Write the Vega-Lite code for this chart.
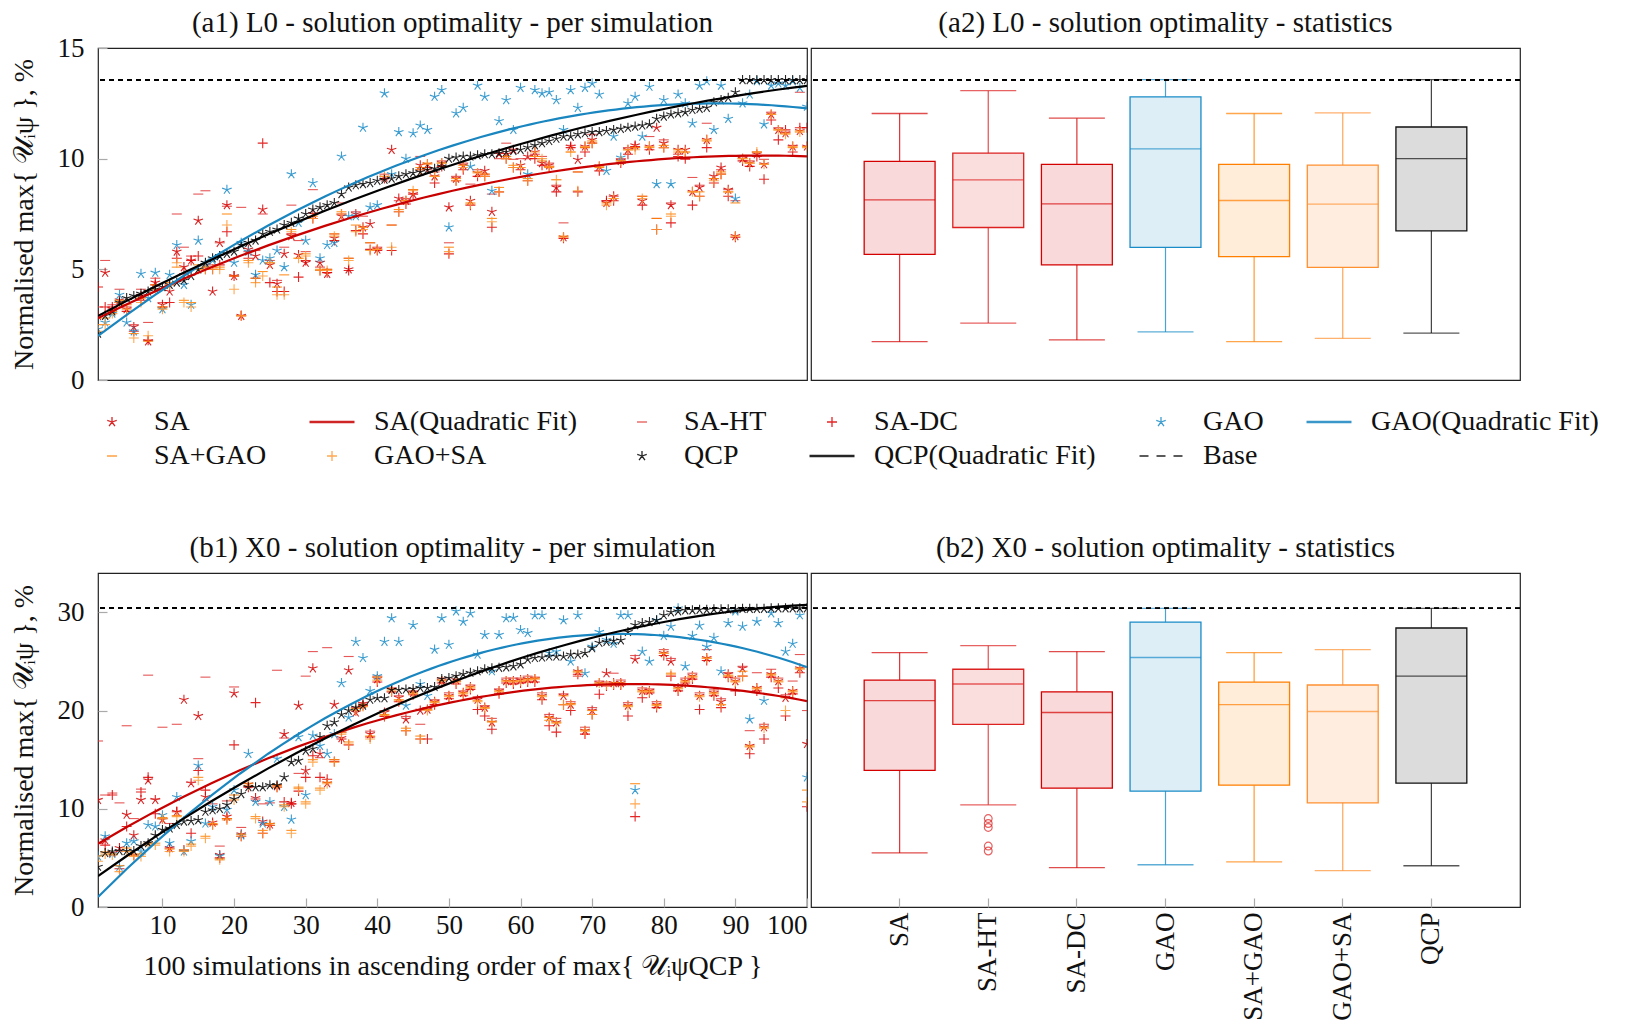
{
"$schema":"https://vega.github.io/schema/vega-lite/v6.json",
"background":"white",
"padding":{"left":9,"top":8,"right":10,"bottom":4},
"config":{
 "font":"Liberation Serif",
 "view":{"stroke":"#222","strokeWidth":1.2},
 "axis":{"labelFont":"Liberation Serif","titleFont":"Liberation Serif","labelFontSize":27,"titleFontSize":28,"titleFontWeight":"normal","labelColor":"#111","titleColor":"#111","grid":false,"domain":false,"tickColor":"#aaa","tickSize":-9,"tickWidth":1.2},
 "title":{"font":"Liberation Serif","fontSize":29,"fontWeight":"normal","color":"#111","frame":"group"},
 "legend":{"labelFont":"Liberation Serif","labelFontSize":28,"labelColor":"#111","labelLimit":500}
},
"datasets":{
"a":[
{"s":"SA","x":1,"y":2.9},{"s":"SA","x":2,"y":4.85},{"s":"SA","x":3,"y":3.2},{"s":"SA","x":4,"y":3.6},{"s":"SA","x":5,"y":3.2},{"s":"SA","x":6,"y":2.4},{"s":"SA","x":7,"y":3.8},{"s":"SA","x":8,"y":1.75},{"s":"SA","x":9,"y":4.4},{"s":"SA","x":10,"y":3.4},
{"s":"SA","x":11,"y":4.0},{"s":"SA","x":12,"y":5.8},{"s":"SA","x":13,"y":5.1},{"s":"SA","x":14,"y":5.4},{"s":"SA","x":15,"y":7.2},{"s":"SA","x":16,"y":5.2},{"s":"SA","x":17,"y":4.0},{"s":"SA","x":18,"y":6.2},{"s":"SA","x":19,"y":7.9},{"s":"SA","x":20,"y":4.7},
{"s":"SA","x":21,"y":2.9},{"s":"SA","x":22,"y":5.9},{"s":"SA","x":23,"y":5.6},{"s":"SA","x":24,"y":7.7},{"s":"SA","x":25,"y":5.2},{"s":"SA","x":26,"y":4.35},{"s":"SA","x":27,"y":5.7},{"s":"SA","x":28,"y":6.5},{"s":"SA","x":29,"y":5.65},{"s":"SA","x":30,"y":5.3},
{"s":"SA","x":31,"y":7.5},{"s":"SA","x":32,"y":5.3},{"s":"SA","x":33,"y":4.8},{"s":"SA","x":34,"y":6.4},{"s":"SA","x":35,"y":7.4},{"s":"SA","x":36,"y":5.0},{"s":"SA","x":37,"y":7.5},{"s":"SA","x":38,"y":6.9},{"s":"SA","x":39,"y":7.05},{"s":"SA","x":40,"y":5.9},
{"s":"SA","x":41,"y":9.15},{"s":"SA","x":42,"y":10.4},{"s":"SA","x":43,"y":8.2},{"s":"SA","x":44,"y":8.1},{"s":"SA","x":45,"y":8.4},{"s":"SA","x":46,"y":9.7},{"s":"SA","x":47,"y":9.75},{"s":"SA","x":48,"y":9.2},{"s":"SA","x":49,"y":9.8},{"s":"SA","x":50,"y":7.8},
{"s":"SA","x":51,"y":9.1},{"s":"SA","x":52,"y":9.7},{"s":"SA","x":53,"y":8.1},{"s":"SA","x":54,"y":9.35},{"s":"SA","x":55,"y":9.45},{"s":"SA","x":56,"y":7.6},{"s":"SA","x":57,"y":10.2},{"s":"SA","x":58,"y":10.2},{"s":"SA","x":59,"y":10.4},{"s":"SA","x":60,"y":9.7},
{"s":"SA","x":61,"y":10.1},{"s":"SA","x":62,"y":10.3},{"s":"SA","x":63,"y":9.8},{"s":"SA","x":64,"y":9.7},{"s":"SA","x":65,"y":8.7},{"s":"SA","x":66,"y":6.45},{"s":"SA","x":67,"y":10.55},{"s":"SA","x":68,"y":9.95},{"s":"SA","x":69,"y":10.55},{"s":"SA","x":70,"y":10.85},
{"s":"SA","x":71,"y":9.65},{"s":"SA","x":72,"y":8.0},{"s":"SA","x":73,"y":8.3},{"s":"SA","x":74,"y":9.9},{"s":"SA","x":75,"y":10.4},{"s":"SA","x":76,"y":10.6},{"s":"SA","x":77,"y":8.1},{"s":"SA","x":78,"y":10.55},{"s":"SA","x":79,"y":11.4},{"s":"SA","x":80,"y":10.7},
{"s":"SA","x":81,"y":7.9},{"s":"SA","x":82,"y":10.4},{"s":"SA","x":83,"y":10.4},{"s":"SA","x":84,"y":8.5},{"s":"SA","x":85,"y":8.7},{"s":"SA","x":86,"y":10.85},{"s":"SA","x":87,"y":9.2},{"s":"SA","x":88,"y":9.6},{"s":"SA","x":89,"y":8.6},{"s":"SA","x":90,"y":6.5},
{"s":"SA","x":91,"y":10.0},{"s":"SA","x":92,"y":9.8},{"s":"SA","x":93,"y":10.2},{"s":"SA","x":94,"y":9.75},{"s":"SA","x":95,"y":12.0},{"s":"SA","x":96,"y":11.3},{"s":"SA","x":97,"y":11.15},{"s":"SA","x":98,"y":10.55},{"s":"SA","x":99,"y":11.25},{"s":"SA","x":100,"y":10.55},
{"s":"SA-HT","x":1,"y":3.3},{"s":"SA-HT","x":2,"y":5.4},{"s":"SA-HT","x":3,"y":3.4},{"s":"SA-HT","x":4,"y":4.1},{"s":"SA-HT","x":5,"y":3.3},{"s":"SA-HT","x":6,"y":2.5},{"s":"SA-HT","x":7,"y":4.1},{"s":"SA-HT","x":8,"y":2.6},{"s":"SA-HT","x":9,"y":4.6},{"s":"SA-HT","x":10,"y":3.5},
{"s":"SA-HT","x":11,"y":4.3},{"s":"SA-HT","x":12,"y":7.5},{"s":"SA-HT","x":13,"y":6.0},{"s":"SA-HT","x":14,"y":5.6},{"s":"SA-HT","x":15,"y":8.4},{"s":"SA-HT","x":16,"y":8.55},{"s":"SA-HT","x":17,"y":5.2},{"s":"SA-HT","x":18,"y":6.2},{"s":"SA-HT","x":19,"y":7.85},{"s":"SA-HT","x":20,"y":4.7},
{"s":"SA-HT","x":21,"y":7.8},{"s":"SA-HT","x":22,"y":5.8},{"s":"SA-HT","x":23,"y":5.85},{"s":"SA-HT","x":24,"y":7.5},{"s":"SA-HT","x":25,"y":5.4},{"s":"SA-HT","x":26,"y":4.5},{"s":"SA-HT","x":27,"y":6.0},{"s":"SA-HT","x":28,"y":7.9},{"s":"SA-HT","x":29,"y":6.3},{"s":"SA-HT","x":30,"y":5.8},
{"s":"SA-HT","x":31,"y":8.6},{"s":"SA-HT","x":32,"y":5.1},{"s":"SA-HT","x":33,"y":5.0},{"s":"SA-HT","x":34,"y":6.6},{"s":"SA-HT","x":35,"y":8.0},{"s":"SA-HT","x":36,"y":5.5},{"s":"SA-HT","x":37,"y":7.6},{"s":"SA-HT","x":38,"y":7.4},{"s":"SA-HT","x":39,"y":6.2},{"s":"SA-HT","x":40,"y":6.0},
{"s":"SA-HT","x":41,"y":9.3},{"s":"SA-HT","x":42,"y":7.0},{"s":"SA-HT","x":43,"y":8.1},{"s":"SA-HT","x":44,"y":8.2},{"s":"SA-HT","x":45,"y":8.6},{"s":"SA-HT","x":46,"y":10.1},{"s":"SA-HT","x":47,"y":9.5},{"s":"SA-HT","x":48,"y":9.4},{"s":"SA-HT","x":49,"y":9.9},{"s":"SA-HT","x":50,"y":6.2},
{"s":"SA-HT","x":51,"y":9.2},{"s":"SA-HT","x":52,"y":9.8},{"s":"SA-HT","x":53,"y":8.85},{"s":"SA-HT","x":54,"y":9.5},{"s":"SA-HT","x":55,"y":9.3},{"s":"SA-HT","x":56,"y":8.4},{"s":"SA-HT","x":57,"y":10.0},{"s":"SA-HT","x":58,"y":10.7},{"s":"SA-HT","x":59,"y":9.97},{"s":"SA-HT","x":60,"y":10.0},
{"s":"SA-HT","x":61,"y":10.0},{"s":"SA-HT","x":62,"y":10.2},{"s":"SA-HT","x":63,"y":10.1},{"s":"SA-HT","x":64,"y":9.8},{"s":"SA-HT","x":65,"y":8.8},{"s":"SA-HT","x":66,"y":7.1},{"s":"SA-HT","x":67,"y":10.6},{"s":"SA-HT","x":68,"y":9.4},{"s":"SA-HT","x":69,"y":10.5},{"s":"SA-HT","x":70,"y":11.1},
{"s":"SA-HT","x":71,"y":9.7},{"s":"SA-HT","x":72,"y":8.1},{"s":"SA-HT","x":73,"y":8.3},{"s":"SA-HT","x":74,"y":10.0},{"s":"SA-HT","x":75,"y":10.5},{"s":"SA-HT","x":76,"y":10.5},{"s":"SA-HT","x":77,"y":8.3},{"s":"SA-HT","x":78,"y":11.0},{"s":"SA-HT","x":79,"y":7.3},{"s":"SA-HT","x":80,"y":10.85},
{"s":"SA-HT","x":81,"y":8.0},{"s":"SA-HT","x":82,"y":10.2},{"s":"SA-HT","x":83,"y":9.97},{"s":"SA-HT","x":84,"y":9.15},{"s":"SA-HT","x":85,"y":8.8},{"s":"SA-HT","x":86,"y":11.6},{"s":"SA-HT","x":87,"y":9.1},{"s":"SA-HT","x":88,"y":9.5},{"s":"SA-HT","x":89,"y":8.6},{"s":"SA-HT","x":90,"y":8.1},
{"s":"SA-HT","x":91,"y":10.1},{"s":"SA-HT","x":92,"y":9.9},{"s":"SA-HT","x":93,"y":10.3},{"s":"SA-HT","x":94,"y":9.97},{"s":"SA-HT","x":95,"y":12.1},{"s":"SA-HT","x":96,"y":11.4},{"s":"SA-HT","x":97,"y":11.2},{"s":"SA-HT","x":98,"y":10.6},{"s":"SA-HT","x":99,"y":13.0},{"s":"SA-HT","x":100,"y":11.4},
{"s":"SA-DC","x":1,"y":4.2},{"s":"SA-DC","x":2,"y":3.3},{"s":"SA-DC","x":3,"y":3.3},{"s":"SA-DC","x":4,"y":3.5},{"s":"SA-DC","x":5,"y":3.1},{"s":"SA-DC","x":6,"y":2.2},{"s":"SA-DC","x":7,"y":3.6},{"s":"SA-DC","x":8,"y":1.8},{"s":"SA-DC","x":9,"y":4.3},{"s":"SA-DC","x":10,"y":3.3},
{"s":"SA-DC","x":11,"y":3.5},{"s":"SA-DC","x":12,"y":5.5},{"s":"SA-DC","x":13,"y":4.8},{"s":"SA-DC","x":14,"y":5.4},{"s":"SA-DC","x":15,"y":5.6},{"s":"SA-DC","x":16,"y":5.0},{"s":"SA-DC","x":17,"y":5.0},{"s":"SA-DC","x":18,"y":5.2},{"s":"SA-DC","x":19,"y":6.7},{"s":"SA-DC","x":20,"y":4.7},
{"s":"SA-DC","x":21,"y":2.9},{"s":"SA-DC","x":22,"y":5.5},{"s":"SA-DC","x":23,"y":4.6},{"s":"SA-DC","x":24,"y":10.7},{"s":"SA-DC","x":25,"y":4.4},{"s":"SA-DC","x":26,"y":4.0},{"s":"SA-DC","x":27,"y":4.0},{"s":"SA-DC","x":28,"y":6.6},{"s":"SA-DC","x":29,"y":4.65},{"s":"SA-DC","x":30,"y":5.4},
{"s":"SA-DC","x":31,"y":7.3},{"s":"SA-DC","x":32,"y":4.95},{"s":"SA-DC","x":33,"y":4.85},{"s":"SA-DC","x":34,"y":6.3},{"s":"SA-DC","x":35,"y":7.5},{"s":"SA-DC","x":36,"y":4.95},{"s":"SA-DC","x":37,"y":6.75},{"s":"SA-DC","x":38,"y":6.6},{"s":"SA-DC","x":39,"y":5.9},{"s":"SA-DC","x":40,"y":5.85},
{"s":"SA-DC","x":41,"y":9.1},{"s":"SA-DC","x":42,"y":5.85},{"s":"SA-DC","x":43,"y":7.6},{"s":"SA-DC","x":44,"y":7.95},{"s":"SA-DC","x":45,"y":8.4},{"s":"SA-DC","x":46,"y":9.5},{"s":"SA-DC","x":47,"y":9.6},{"s":"SA-DC","x":48,"y":8.9},{"s":"SA-DC","x":49,"y":9.65},{"s":"SA-DC","x":50,"y":5.7},
{"s":"SA-DC","x":51,"y":9.0},{"s":"SA-DC","x":52,"y":9.5},{"s":"SA-DC","x":53,"y":7.9},{"s":"SA-DC","x":54,"y":9.2},{"s":"SA-DC","x":55,"y":9.2},{"s":"SA-DC","x":56,"y":6.9},{"s":"SA-DC","x":57,"y":8.5},{"s":"SA-DC","x":58,"y":10.0},{"s":"SA-DC","x":59,"y":9.6},{"s":"SA-DC","x":60,"y":9.5},
{"s":"SA-DC","x":61,"y":9.0},{"s":"SA-DC","x":62,"y":10.0},{"s":"SA-DC","x":63,"y":9.7},{"s":"SA-DC","x":64,"y":9.65},{"s":"SA-DC","x":65,"y":8.5},{"s":"SA-DC","x":66,"y":6.4},{"s":"SA-DC","x":67,"y":10.5},{"s":"SA-DC","x":68,"y":8.5},{"s":"SA-DC","x":69,"y":10.3},{"s":"SA-DC","x":70,"y":10.7},
{"s":"SA-DC","x":71,"y":9.45},{"s":"SA-DC","x":72,"y":8.1},{"s":"SA-DC","x":73,"y":8.1},{"s":"SA-DC","x":74,"y":9.8},{"s":"SA-DC","x":75,"y":10.2},{"s":"SA-DC","x":76,"y":10.55},{"s":"SA-DC","x":77,"y":7.9},{"s":"SA-DC","x":78,"y":10.4},{"s":"SA-DC","x":79,"y":6.8},{"s":"SA-DC","x":80,"y":10.5},
{"s":"SA-DC","x":81,"y":7.1},{"s":"SA-DC","x":82,"y":10.1},{"s":"SA-DC","x":83,"y":10.0},{"s":"SA-DC","x":84,"y":7.9},{"s":"SA-DC","x":85,"y":8.3},{"s":"SA-DC","x":86,"y":10.5},{"s":"SA-DC","x":87,"y":8.9},{"s":"SA-DC","x":88,"y":9.3},{"s":"SA-DC","x":89,"y":8.3},{"s":"SA-DC","x":90,"y":6.45},
{"s":"SA-DC","x":91,"y":9.9},{"s":"SA-DC","x":92,"y":9.65},{"s":"SA-DC","x":93,"y":10.1},{"s":"SA-DC","x":94,"y":9.07},{"s":"SA-DC","x":95,"y":11.75},{"s":"SA-DC","x":96,"y":10.85},{"s":"SA-DC","x":97,"y":11.3},{"s":"SA-DC","x":98,"y":10.3},{"s":"SA-DC","x":99,"y":11.4},{"s":"SA-DC","x":100,"y":11.4},
{"s":"GAO","x":1,"y":2.3},{"s":"GAO","x":2,"y":2.6},{"s":"GAO","x":3,"y":3.0},{"s":"GAO","x":4,"y":3.85},{"s":"GAO","x":5,"y":2.6},{"s":"GAO","x":6,"y":2.2},{"s":"GAO","x":7,"y":4.8},{"s":"GAO","x":8,"y":3.7},{"s":"GAO","x":9,"y":4.85},{"s":"GAO","x":10,"y":3.2},
{"s":"GAO","x":11,"y":4.75},{"s":"GAO","x":12,"y":6.1},{"s":"GAO","x":13,"y":4.3},{"s":"GAO","x":14,"y":3.4},{"s":"GAO","x":15,"y":6.3},{"s":"GAO","x":16,"y":5.2},{"s":"GAO","x":17,"y":5.4},{"s":"GAO","x":18,"y":5.6},{"s":"GAO","x":19,"y":8.6},{"s":"GAO","x":20,"y":5.3},
{"s":"GAO","x":21,"y":6.2},{"s":"GAO","x":22,"y":5.8},{"s":"GAO","x":23,"y":4.75},{"s":"GAO","x":24,"y":5.4},{"s":"GAO","x":25,"y":5.5},{"s":"GAO","x":26,"y":5.85},{"s":"GAO","x":27,"y":5.1},{"s":"GAO","x":28,"y":9.3},{"s":"GAO","x":29,"y":7.1},{"s":"GAO","x":30,"y":6.3},
{"s":"GAO","x":31,"y":8.9},{"s":"GAO","x":32,"y":5.5},{"s":"GAO","x":33,"y":6.1},{"s":"GAO","x":34,"y":6.2},{"s":"GAO","x":35,"y":10.1},{"s":"GAO","x":36,"y":7.4},{"s":"GAO","x":37,"y":7.4},{"s":"GAO","x":38,"y":11.4},{"s":"GAO","x":39,"y":7.8},{"s":"GAO","x":40,"y":7.9},
{"s":"GAO","x":41,"y":12.95},{"s":"GAO","x":42,"y":9.3},{"s":"GAO","x":43,"y":11.2},{"s":"GAO","x":44,"y":10.0},{"s":"GAO","x":45,"y":11.15},{"s":"GAO","x":46,"y":11.5},{"s":"GAO","x":47,"y":11.3},{"s":"GAO","x":48,"y":12.8},{"s":"GAO","x":49,"y":13.1},{"s":"GAO","x":50,"y":6.9},
{"s":"GAO","x":51,"y":12.05},{"s":"GAO","x":52,"y":12.3},{"s":"GAO","x":53,"y":9.65},{"s":"GAO","x":54,"y":13.3},{"s":"GAO","x":55,"y":12.8},{"s":"GAO","x":56,"y":8.55},{"s":"GAO","x":57,"y":11.7},{"s":"GAO","x":58,"y":12.65},{"s":"GAO","x":59,"y":11.3},{"s":"GAO","x":60,"y":13.2},
{"s":"GAO","x":61,"y":9.3},{"s":"GAO","x":62,"y":13.1},{"s":"GAO","x":63,"y":12.95},{"s":"GAO","x":64,"y":13.0},{"s":"GAO","x":65,"y":12.65},{"s":"GAO","x":66,"y":11.3},{"s":"GAO","x":67,"y":13.1},{"s":"GAO","x":68,"y":12.3},{"s":"GAO","x":69,"y":13.2},{"s":"GAO","x":70,"y":13.4},
{"s":"GAO","x":71,"y":12.9},{"s":"GAO","x":72,"y":9.45},{"s":"GAO","x":73,"y":11.0},{"s":"GAO","x":74,"y":10.05},{"s":"GAO","x":75,"y":12.5},{"s":"GAO","x":76,"y":12.8},{"s":"GAO","x":77,"y":11.0},{"s":"GAO","x":78,"y":13.25},{"s":"GAO","x":79,"y":8.85},{"s":"GAO","x":80,"y":12.65},
{"s":"GAO","x":81,"y":8.85},{"s":"GAO","x":82,"y":12.9},{"s":"GAO","x":83,"y":12.5},{"s":"GAO","x":84,"y":11.6},{"s":"GAO","x":85,"y":13.3},{"s":"GAO","x":86,"y":13.5},{"s":"GAO","x":87,"y":11.3},{"s":"GAO","x":88,"y":13.3},{"s":"GAO","x":89,"y":11.8},{"s":"GAO","x":90,"y":8.2},
{"s":"GAO","x":91,"y":12.5},{"s":"GAO","x":92,"y":12.9},{"s":"GAO","x":93,"y":13.5},{"s":"GAO","x":94,"y":11.55},{"s":"GAO","x":95,"y":13.3},{"s":"GAO","x":96,"y":13.4},{"s":"GAO","x":97,"y":13.3},{"s":"GAO","x":98,"y":13.5},{"s":"GAO","x":99,"y":13.2},{"s":"GAO","x":100,"y":12.35},
{"s":"SA+GAO","x":1,"y":2.5},{"s":"SA+GAO","x":2,"y":2.8},{"s":"SA+GAO","x":3,"y":3.1},{"s":"SA+GAO","x":4,"y":3.6},{"s":"SA+GAO","x":5,"y":3.4},{"s":"SA+GAO","x":6,"y":2.1},{"s":"SA+GAO","x":7,"y":3.7},{"s":"SA+GAO","x":8,"y":1.75},{"s":"SA+GAO","x":9,"y":4.3},{"s":"SA+GAO","x":10,"y":3.3},
{"s":"SA+GAO","x":11,"y":4.4},{"s":"SA+GAO","x":12,"y":5.1},{"s":"SA+GAO","x":13,"y":3.6},{"s":"SA+GAO","x":14,"y":3.5},{"s":"SA+GAO","x":15,"y":5.2},{"s":"SA+GAO","x":16,"y":5.1},{"s":"SA+GAO","x":17,"y":5.1},{"s":"SA+GAO","x":18,"y":5.1},{"s":"SA+GAO","x":19,"y":7.5},{"s":"SA+GAO","x":20,"y":4.7},
{"s":"SA+GAO","x":21,"y":2.9},{"s":"SA+GAO","x":22,"y":5.4},{"s":"SA+GAO","x":23,"y":4.6},{"s":"SA+GAO","x":24,"y":4.9},{"s":"SA+GAO","x":25,"y":5.3},{"s":"SA+GAO","x":26,"y":4.2},{"s":"SA+GAO","x":27,"y":4.75},{"s":"SA+GAO","x":28,"y":6.8},{"s":"SA+GAO","x":29,"y":5.5},{"s":"SA+GAO","x":30,"y":5.7},
{"s":"SA+GAO","x":31,"y":7.4},{"s":"SA+GAO","x":32,"y":5.0},{"s":"SA+GAO","x":33,"y":5.0},{"s":"SA+GAO","x":34,"y":6.6},{"s":"SA+GAO","x":35,"y":7.6},{"s":"SA+GAO","x":36,"y":5.5},{"s":"SA+GAO","x":37,"y":7.0},{"s":"SA+GAO","x":38,"y":6.9},{"s":"SA+GAO","x":39,"y":6.2},{"s":"SA+GAO","x":40,"y":5.9},
{"s":"SA+GAO","x":41,"y":9.2},{"s":"SA+GAO","x":42,"y":7.0},{"s":"SA+GAO","x":43,"y":7.7},{"s":"SA+GAO","x":44,"y":8.1},{"s":"SA+GAO","x":45,"y":8.6},{"s":"SA+GAO","x":46,"y":9.6},{"s":"SA+GAO","x":47,"y":9.8},{"s":"SA+GAO","x":48,"y":9.2},{"s":"SA+GAO","x":49,"y":9.8},{"s":"SA+GAO","x":50,"y":6.0},
{"s":"SA+GAO","x":51,"y":9.1},{"s":"SA+GAO","x":52,"y":9.7},{"s":"SA+GAO","x":53,"y":8.0},{"s":"SA+GAO","x":54,"y":9.4},{"s":"SA+GAO","x":55,"y":9.3},{"s":"SA+GAO","x":56,"y":7.3},{"s":"SA+GAO","x":57,"y":8.7},{"s":"SA+GAO","x":58,"y":10.1},{"s":"SA+GAO","x":59,"y":9.7},{"s":"SA+GAO","x":60,"y":9.6},
{"s":"SA+GAO","x":61,"y":9.1},{"s":"SA+GAO","x":62,"y":10.1},{"s":"SA+GAO","x":63,"y":9.9},{"s":"SA+GAO","x":64,"y":9.6},{"s":"SA+GAO","x":65,"y":9.05},{"s":"SA+GAO","x":66,"y":6.5},{"s":"SA+GAO","x":67,"y":10.3},{"s":"SA+GAO","x":68,"y":9.4},{"s":"SA+GAO","x":69,"y":10.5},{"s":"SA+GAO","x":70,"y":10.8},
{"s":"SA+GAO","x":71,"y":9.6},{"s":"SA+GAO","x":72,"y":8.0},{"s":"SA+GAO","x":73,"y":8.2},{"s":"SA+GAO","x":74,"y":9.9},{"s":"SA+GAO","x":75,"y":10.4},{"s":"SA+GAO","x":76,"y":10.5},{"s":"SA+GAO","x":77,"y":8.3},{"s":"SA+GAO","x":78,"y":10.5},{"s":"SA+GAO","x":79,"y":7.3},{"s":"SA+GAO","x":80,"y":10.6},
{"s":"SA+GAO","x":81,"y":7.5},{"s":"SA+GAO","x":82,"y":10.4},{"s":"SA+GAO","x":83,"y":10.3},{"s":"SA+GAO","x":84,"y":8.5},{"s":"SA+GAO","x":85,"y":8.5},{"s":"SA+GAO","x":86,"y":10.8},{"s":"SA+GAO","x":87,"y":9.1},{"s":"SA+GAO","x":88,"y":9.4},{"s":"SA+GAO","x":89,"y":8.5},{"s":"SA+GAO","x":90,"y":8.0},
{"s":"SA+GAO","x":91,"y":10.0},{"s":"SA+GAO","x":92,"y":9.8},{"s":"SA+GAO","x":93,"y":10.3},{"s":"SA+GAO","x":94,"y":9.75},{"s":"SA+GAO","x":95,"y":12.0},{"s":"SA+GAO","x":96,"y":11.3},{"s":"SA+GAO","x":97,"y":11.15},{"s":"SA+GAO","x":98,"y":10.5},{"s":"SA+GAO","x":99,"y":11.25},{"s":"SA+GAO","x":100,"y":10.55},
{"s":"GAO+SA","x":1,"y":2.2},{"s":"GAO+SA","x":2,"y":2.5},{"s":"GAO+SA","x":3,"y":3.0},{"s":"GAO+SA","x":4,"y":3.5},{"s":"GAO+SA","x":5,"y":3.2},{"s":"GAO+SA","x":6,"y":1.9},{"s":"GAO+SA","x":7,"y":3.5},{"s":"GAO+SA","x":8,"y":2.0},{"s":"GAO+SA","x":9,"y":4.1},{"s":"GAO+SA","x":10,"y":3.2},
{"s":"GAO+SA","x":11,"y":4.3},{"s":"GAO+SA","x":12,"y":5.3},{"s":"GAO+SA","x":13,"y":3.5},{"s":"GAO+SA","x":14,"y":3.3},{"s":"GAO+SA","x":15,"y":5.0},{"s":"GAO+SA","x":16,"y":5.0},{"s":"GAO+SA","x":17,"y":5.0},{"s":"GAO+SA","x":18,"y":5.0},{"s":"GAO+SA","x":19,"y":7.0},{"s":"GAO+SA","x":20,"y":4.1},
{"s":"GAO+SA","x":21,"y":2.9},{"s":"GAO+SA","x":22,"y":5.3},{"s":"GAO+SA","x":23,"y":4.4},{"s":"GAO+SA","x":24,"y":4.7},{"s":"GAO+SA","x":25,"y":5.3},{"s":"GAO+SA","x":26,"y":3.85},{"s":"GAO+SA","x":27,"y":3.85},{"s":"GAO+SA","x":28,"y":6.7},{"s":"GAO+SA","x":29,"y":5.5},{"s":"GAO+SA","x":30,"y":5.6},
{"s":"GAO+SA","x":31,"y":7.3},{"s":"GAO+SA","x":32,"y":4.95},{"s":"GAO+SA","x":33,"y":4.95},{"s":"GAO+SA","x":34,"y":6.5},{"s":"GAO+SA","x":35,"y":7.5},{"s":"GAO+SA","x":36,"y":5.4},{"s":"GAO+SA","x":37,"y":6.7},{"s":"GAO+SA","x":38,"y":6.8},{"s":"GAO+SA","x":39,"y":5.85},{"s":"GAO+SA","x":40,"y":5.9},
{"s":"GAO+SA","x":41,"y":9.2},{"s":"GAO+SA","x":42,"y":6.0},{"s":"GAO+SA","x":43,"y":7.6},{"s":"GAO+SA","x":44,"y":8.1},{"s":"GAO+SA","x":45,"y":8.55},{"s":"GAO+SA","x":46,"y":9.5},{"s":"GAO+SA","x":47,"y":9.75},{"s":"GAO+SA","x":48,"y":9.2},{"s":"GAO+SA","x":49,"y":9.8},{"s":"GAO+SA","x":50,"y":5.8},
{"s":"GAO+SA","x":51,"y":9.0},{"s":"GAO+SA","x":52,"y":9.6},{"s":"GAO+SA","x":53,"y":7.95},{"s":"GAO+SA","x":54,"y":9.35},{"s":"GAO+SA","x":55,"y":9.2},{"s":"GAO+SA","x":56,"y":7.15},{"s":"GAO+SA","x":57,"y":8.5},{"s":"GAO+SA","x":58,"y":10.0},{"s":"GAO+SA","x":59,"y":9.6},{"s":"GAO+SA","x":60,"y":9.6},
{"s":"GAO+SA","x":61,"y":9.0},{"s":"GAO+SA","x":62,"y":10.3},{"s":"GAO+SA","x":63,"y":10.0},{"s":"GAO+SA","x":64,"y":9.65},{"s":"GAO+SA","x":65,"y":9.05},{"s":"GAO+SA","x":66,"y":6.45},{"s":"GAO+SA","x":67,"y":10.3},{"s":"GAO+SA","x":68,"y":8.55},{"s":"GAO+SA","x":69,"y":10.55},{"s":"GAO+SA","x":70,"y":10.7},
{"s":"GAO+SA","x":71,"y":9.65},{"s":"GAO+SA","x":72,"y":7.9},{"s":"GAO+SA","x":73,"y":8.2},{"s":"GAO+SA","x":74,"y":9.9},{"s":"GAO+SA","x":75,"y":10.4},{"s":"GAO+SA","x":76,"y":10.4},{"s":"GAO+SA","x":77,"y":8.2},{"s":"GAO+SA","x":78,"y":10.55},{"s":"GAO+SA","x":79,"y":6.8},{"s":"GAO+SA","x":80,"y":10.5},
{"s":"GAO+SA","x":81,"y":7.4},{"s":"GAO+SA","x":82,"y":10.3},{"s":"GAO+SA","x":83,"y":10.3},{"s":"GAO+SA","x":84,"y":8.5},{"s":"GAO+SA","x":85,"y":8.3},{"s":"GAO+SA","x":86,"y":10.85},{"s":"GAO+SA","x":87,"y":9.0},{"s":"GAO+SA","x":88,"y":9.3},{"s":"GAO+SA","x":89,"y":8.5},{"s":"GAO+SA","x":90,"y":6.5},
{"s":"GAO+SA","x":91,"y":10.0},{"s":"GAO+SA","x":92,"y":9.8},{"s":"GAO+SA","x":93,"y":10.3},{"s":"GAO+SA","x":94,"y":9.75},{"s":"GAO+SA","x":95,"y":12.0},{"s":"GAO+SA","x":96,"y":11.3},{"s":"GAO+SA","x":97,"y":11.1},{"s":"GAO+SA","x":98,"y":10.55},{"s":"GAO+SA","x":99,"y":11.2},{"s":"GAO+SA","x":100,"y":10.5},
{"s":"QCP","x":1,"y":2.1},{"s":"QCP","x":2,"y":2.9},{"s":"QCP","x":3,"y":3.1},{"s":"QCP","x":4,"y":3.5},{"s":"QCP","x":5,"y":3.7},{"s":"QCP","x":6,"y":3.8},{"s":"QCP","x":7,"y":3.9},{"s":"QCP","x":8,"y":4.0},{"s":"QCP","x":9,"y":4.1},{"s":"QCP","x":10,"y":4.2},
{"s":"QCP","x":11,"y":4.3},{"s":"QCP","x":12,"y":4.4},{"s":"QCP","x":13,"y":4.5},{"s":"QCP","x":14,"y":4.7},{"s":"QCP","x":15,"y":5.0},{"s":"QCP","x":16,"y":5.3},{"s":"QCP","x":17,"y":5.5},{"s":"QCP","x":18,"y":5.6},{"s":"QCP","x":19,"y":5.7},{"s":"QCP","x":20,"y":5.8},
{"s":"QCP","x":21,"y":6.1},{"s":"QCP","x":22,"y":6.2},{"s":"QCP","x":23,"y":6.3},{"s":"QCP","x":24,"y":6.6},{"s":"QCP","x":25,"y":6.7},{"s":"QCP","x":26,"y":6.8},{"s":"QCP","x":27,"y":7.0},{"s":"QCP","x":28,"y":7.1},{"s":"QCP","x":29,"y":7.3},{"s":"QCP","x":30,"y":7.5},
{"s":"QCP","x":31,"y":7.7},{"s":"QCP","x":32,"y":7.8},{"s":"QCP","x":33,"y":7.9},{"s":"QCP","x":34,"y":8.0},{"s":"QCP","x":35,"y":8.4},{"s":"QCP","x":36,"y":8.7},{"s":"QCP","x":37,"y":8.8},{"s":"QCP","x":38,"y":8.85},{"s":"QCP","x":39,"y":8.9},{"s":"QCP","x":40,"y":9.0},
{"s":"QCP","x":41,"y":9.05},{"s":"QCP","x":42,"y":9.1},{"s":"QCP","x":43,"y":9.2},{"s":"QCP","x":44,"y":9.3},{"s":"QCP","x":45,"y":9.35},{"s":"QCP","x":46,"y":9.4},{"s":"QCP","x":47,"y":9.5},{"s":"QCP","x":48,"y":9.55},{"s":"QCP","x":49,"y":9.65},{"s":"QCP","x":50,"y":10.0},
{"s":"QCP","x":51,"y":10.05},{"s":"QCP","x":52,"y":10.1},{"s":"QCP","x":53,"y":10.1},{"s":"QCP","x":54,"y":10.15},{"s":"QCP","x":55,"y":10.2},{"s":"QCP","x":56,"y":10.2},{"s":"QCP","x":57,"y":10.25},{"s":"QCP","x":58,"y":10.3},{"s":"QCP","x":59,"y":10.35},{"s":"QCP","x":60,"y":10.4},
{"s":"QCP","x":61,"y":10.5},{"s":"QCP","x":62,"y":10.6},{"s":"QCP","x":63,"y":10.7},{"s":"QCP","x":64,"y":10.8},{"s":"QCP","x":65,"y":10.9},{"s":"QCP","x":66,"y":11.0},{"s":"QCP","x":67,"y":11.0},{"s":"QCP","x":68,"y":11.1},{"s":"QCP","x":69,"y":11.15},{"s":"QCP","x":70,"y":11.2},
{"s":"QCP","x":71,"y":11.2},{"s":"QCP","x":72,"y":11.25},{"s":"QCP","x":73,"y":11.3},{"s":"QCP","x":74,"y":11.35},{"s":"QCP","x":75,"y":11.4},{"s":"QCP","x":76,"y":11.45},{"s":"QCP","x":77,"y":11.5},{"s":"QCP","x":78,"y":11.55},{"s":"QCP","x":79,"y":11.8},{"s":"QCP","x":80,"y":11.9},
{"s":"QCP","x":81,"y":12.0},{"s":"QCP","x":82,"y":12.05},{"s":"QCP","x":83,"y":12.1},{"s":"QCP","x":84,"y":12.2},{"s":"QCP","x":85,"y":12.25},{"s":"QCP","x":86,"y":12.3},{"s":"QCP","x":87,"y":12.55},{"s":"QCP","x":88,"y":12.65},{"s":"QCP","x":89,"y":12.75},{"s":"QCP","x":90,"y":13.0},
{"s":"QCP","x":91,"y":13.55},{"s":"QCP","x":92,"y":13.55},{"s":"QCP","x":93,"y":13.55},{"s":"QCP","x":94,"y":13.55},{"s":"QCP","x":95,"y":13.55},{"s":"QCP","x":96,"y":13.55},{"s":"QCP","x":97,"y":13.55},{"s":"QCP","x":98,"y":13.55},{"s":"QCP","x":99,"y":13.55},{"s":"QCP","x":100,"y":13.55}
],
"b":[
{"s":"SA","x":1,"y":10.9},{"s":"SA","x":2,"y":6.8},{"s":"SA","x":3,"y":5.5},{"s":"SA","x":4,"y":6.0},{"s":"SA","x":5,"y":9.4},{"s":"SA","x":6,"y":7.3},{"s":"SA","x":7,"y":10.9},{"s":"SA","x":8,"y":12.9},{"s":"SA","x":9,"y":10.9},{"s":"SA","x":10,"y":8.9},
{"s":"SA","x":11,"y":6.0},{"s":"SA","x":12,"y":9.7},{"s":"SA","x":13,"y":21.1},{"s":"SA","x":14,"y":12.6},{"s":"SA","x":15,"y":19.45},{"s":"SA","x":16,"y":11.2},{"s":"SA","x":17,"y":8.6},{"s":"SA","x":18,"y":5.3},{"s":"SA","x":19,"y":9.2},{"s":"SA","x":20,"y":21.75},
{"s":"SA","x":21,"y":7.4},{"s":"SA","x":22,"y":12.5},{"s":"SA","x":23,"y":11.1},{"s":"SA","x":24,"y":8.7},{"s":"SA","x":25,"y":8.4},{"s":"SA","x":26,"y":12.3},{"s":"SA","x":27,"y":17.6},{"s":"SA","x":28,"y":10.6},{"s":"SA","x":29,"y":20.5},{"s":"SA","x":30,"y":13.9},
{"s":"SA","x":31,"y":24.3},{"s":"SA","x":32,"y":15.6},{"s":"SA","x":33,"y":12.6},{"s":"SA","x":34,"y":20.6},{"s":"SA","x":35,"y":17.2},{"s":"SA","x":36,"y":24.1},{"s":"SA","x":37,"y":19.8},{"s":"SA","x":38,"y":20.7},{"s":"SA","x":39,"y":17.6},{"s":"SA","x":40,"y":23.2},
{"s":"SA","x":41,"y":19.8},{"s":"SA","x":42,"y":22.15},{"s":"SA","x":43,"y":21.3},{"s":"SA","x":44,"y":19.1},{"s":"SA","x":45,"y":21.8},{"s":"SA","x":46,"y":20.0},{"s":"SA","x":47,"y":20.1},{"s":"SA","x":48,"y":20.9},{"s":"SA","x":49,"y":23.0},{"s":"SA","x":50,"y":21.5},
{"s":"SA","x":51,"y":23.1},{"s":"SA","x":52,"y":21.8},{"s":"SA","x":53,"y":22.4},{"s":"SA","x":54,"y":21.1},{"s":"SA","x":55,"y":20.3},{"s":"SA","x":56,"y":18.8},{"s":"SA","x":57,"y":22.0},{"s":"SA","x":58,"y":23.0},{"s":"SA","x":59,"y":23.0},{"s":"SA","x":60,"y":23.1},
{"s":"SA","x":61,"y":23.2},{"s":"SA","x":62,"y":23.2},{"s":"SA","x":63,"y":21.5},{"s":"SA","x":64,"y":19.3},{"s":"SA","x":65,"y":18.8},{"s":"SA","x":66,"y":21.5},{"s":"SA","x":67,"y":20.6},{"s":"SA","x":68,"y":24.0},{"s":"SA","x":69,"y":17.95},{"s":"SA","x":70,"y":20.0},
{"s":"SA","x":71,"y":22.8},{"s":"SA","x":72,"y":23.8},{"s":"SA","x":73,"y":22.8},{"s":"SA","x":74,"y":22.8},{"s":"SA","x":75,"y":20.5},{"s":"SA","x":76,"y":25.2},{"s":"SA","x":77,"y":22.0},{"s":"SA","x":78,"y":22.0},{"s":"SA","x":79,"y":20.6},{"s":"SA","x":80,"y":25.85},
{"s":"SA","x":81,"y":25.0},{"s":"SA","x":82,"y":22.3},{"s":"SA","x":83,"y":23.0},{"s":"SA","x":84,"y":23.5},{"s":"SA","x":85,"y":21.5},{"s":"SA","x":86,"y":25.35},{"s":"SA","x":87,"y":21.8},{"s":"SA","x":88,"y":20.9},{"s":"SA","x":89,"y":23.7},{"s":"SA","x":90,"y":23.0},
{"s":"SA","x":91,"y":24.3},{"s":"SA","x":92,"y":16.4},{"s":"SA","x":93,"y":22.3},{"s":"SA","x":94,"y":18.3},{"s":"SA","x":95,"y":23.7},{"s":"SA","x":96,"y":23.0},{"s":"SA","x":97,"y":21.3},{"s":"SA","x":98,"y":22.0},{"s":"SA","x":99,"y":24.3},{"s":"SA","x":100,"y":16.6},
{"s":"SA-HT","x":1,"y":16.9},{"s":"SA-HT","x":2,"y":11.4},{"s":"SA-HT","x":3,"y":11.6},{"s":"SA-HT","x":4,"y":10.6},{"s":"SA-HT","x":5,"y":18.45},{"s":"SA-HT","x":6,"y":9.0},{"s":"SA-HT","x":7,"y":12.0},{"s":"SA-HT","x":8,"y":23.6},{"s":"SA-HT","x":9,"y":11.0},{"s":"SA-HT","x":10,"y":18.3},
{"s":"SA-HT","x":11,"y":8.5},{"s":"SA-HT","x":12,"y":18.6},{"s":"SA-HT","x":13,"y":5.7},{"s":"SA-HT","x":14,"y":12.7},{"s":"SA-HT","x":15,"y":15.1},{"s":"SA-HT","x":16,"y":23.4},{"s":"SA-HT","x":17,"y":10.5},{"s":"SA-HT","x":18,"y":6.2},{"s":"SA-HT","x":19,"y":10.8},{"s":"SA-HT","x":20,"y":22.4},
{"s":"SA-HT","x":21,"y":8.1},{"s":"SA-HT","x":22,"y":12.3},{"s":"SA-HT","x":23,"y":11.0},{"s":"SA-HT","x":24,"y":10.5},{"s":"SA-HT","x":25,"y":10.6},{"s":"SA-HT","x":26,"y":24.1},{"s":"SA-HT","x":27,"y":17.2},{"s":"SA-HT","x":28,"y":10.5},{"s":"SA-HT","x":29,"y":13.6},{"s":"SA-HT","x":30,"y":23.5},
{"s":"SA-HT","x":31,"y":26.0},{"s":"SA-HT","x":32,"y":15.2},{"s":"SA-HT","x":33,"y":26.4},{"s":"SA-HT","x":34,"y":15.0},{"s":"SA-HT","x":35,"y":17.8},{"s":"SA-HT","x":36,"y":25.5},{"s":"SA-HT","x":37,"y":20.3},{"s":"SA-HT","x":38,"y":20.8},{"s":"SA-HT","x":39,"y":17.9},{"s":"SA-HT","x":40,"y":23.5},
{"s":"SA-HT","x":41,"y":20.0},{"s":"SA-HT","x":42,"y":22.3},{"s":"SA-HT","x":43,"y":21.5},{"s":"SA-HT","x":44,"y":19.4},{"s":"SA-HT","x":45,"y":22.0},{"s":"SA-HT","x":46,"y":18.6},{"s":"SA-HT","x":47,"y":20.3},{"s":"SA-HT","x":48,"y":21.1},{"s":"SA-HT","x":49,"y":23.3},{"s":"SA-HT","x":50,"y":21.8},
{"s":"SA-HT","x":51,"y":23.0},{"s":"SA-HT","x":52,"y":22.0},{"s":"SA-HT","x":53,"y":22.6},{"s":"SA-HT","x":54,"y":21.4},{"s":"SA-HT","x":55,"y":20.5},{"s":"SA-HT","x":56,"y":19.2},{"s":"SA-HT","x":57,"y":22.2},{"s":"SA-HT","x":58,"y":23.3},{"s":"SA-HT","x":59,"y":23.3},{"s":"SA-HT","x":60,"y":23.3},
{"s":"SA-HT","x":61,"y":23.5},{"s":"SA-HT","x":62,"y":23.4},{"s":"SA-HT","x":63,"y":21.8},{"s":"SA-HT","x":64,"y":19.6},{"s":"SA-HT","x":65,"y":19.2},{"s":"SA-HT","x":66,"y":21.7},{"s":"SA-HT","x":67,"y":20.9},{"s":"SA-HT","x":68,"y":23.5},{"s":"SA-HT","x":69,"y":18.3},{"s":"SA-HT","x":70,"y":20.3},
{"s":"SA-HT","x":71,"y":23.0},{"s":"SA-HT","x":72,"y":22.9},{"s":"SA-HT","x":73,"y":23.8},{"s":"SA-HT","x":74,"y":23.1},{"s":"SA-HT","x":75,"y":20.8},{"s":"SA-HT","x":76,"y":25.6},{"s":"SA-HT","x":77,"y":22.3},{"s":"SA-HT","x":78,"y":22.2},{"s":"SA-HT","x":79,"y":20.9},{"s":"SA-HT","x":80,"y":26.2},
{"s":"SA-HT","x":81,"y":25.3},{"s":"SA-HT","x":82,"y":22.6},{"s":"SA-HT","x":83,"y":23.3},{"s":"SA-HT","x":84,"y":23.8},{"s":"SA-HT","x":85,"y":21.8},{"s":"SA-HT","x":86,"y":26.2},{"s":"SA-HT","x":87,"y":22.1},{"s":"SA-HT","x":88,"y":21.2},{"s":"SA-HT","x":89,"y":23.85},{"s":"SA-HT","x":90,"y":23.3},
{"s":"SA-HT","x":91,"y":24.5},{"s":"SA-HT","x":92,"y":17.95},{"s":"SA-HT","x":93,"y":23.85},{"s":"SA-HT","x":94,"y":18.6},{"s":"SA-HT","x":95,"y":24.2},{"s":"SA-HT","x":96,"y":23.3},{"s":"SA-HT","x":97,"y":21.6},{"s":"SA-HT","x":98,"y":23.0},{"s":"SA-HT","x":99,"y":25.7},{"s":"SA-HT","x":100,"y":20.0},
{"s":"SA-DC","x":1,"y":6.5},{"s":"SA-DC","x":2,"y":6.3},{"s":"SA-DC","x":3,"y":11.4},{"s":"SA-DC","x":4,"y":3.9},{"s":"SA-DC","x":5,"y":8.2},{"s":"SA-DC","x":6,"y":5.3},{"s":"SA-DC","x":7,"y":11.7},{"s":"SA-DC","x":8,"y":13.2},{"s":"SA-DC","x":9,"y":9.5},{"s":"SA-DC","x":10,"y":9.0},
{"s":"SA-DC","x":11,"y":6.0},{"s":"SA-DC","x":12,"y":9.7},{"s":"SA-DC","x":13,"y":5.8},{"s":"SA-DC","x":14,"y":7.5},{"s":"SA-DC","x":15,"y":13.9},{"s":"SA-DC","x":16,"y":11.9},{"s":"SA-DC","x":17,"y":8.4},{"s":"SA-DC","x":18,"y":5.0},{"s":"SA-DC","x":19,"y":9.0},{"s":"SA-DC","x":20,"y":16.5},
{"s":"SA-DC","x":21,"y":7.2},{"s":"SA-DC","x":22,"y":12.2},{"s":"SA-DC","x":23,"y":20.8},{"s":"SA-DC","x":24,"y":7.5},{"s":"SA-DC","x":25,"y":8.3},{"s":"SA-DC","x":26,"y":12.2},{"s":"SA-DC","x":27,"y":10.7},{"s":"SA-DC","x":28,"y":10.5},{"s":"SA-DC","x":29,"y":11.8},{"s":"SA-DC","x":30,"y":13.2},
{"s":"SA-DC","x":31,"y":15.4},{"s":"SA-DC","x":32,"y":13.2},{"s":"SA-DC","x":33,"y":13.0},{"s":"SA-DC","x":34,"y":14.8},{"s":"SA-DC","x":35,"y":17.1},{"s":"SA-DC","x":36,"y":16.5},{"s":"SA-DC","x":37,"y":20.0},{"s":"SA-DC","x":38,"y":20.5},{"s":"SA-DC","x":39,"y":17.3},{"s":"SA-DC","x":40,"y":22.9},
{"s":"SA-DC","x":41,"y":19.4},{"s":"SA-DC","x":42,"y":21.9},{"s":"SA-DC","x":43,"y":20.9},{"s":"SA-DC","x":44,"y":17.95},{"s":"SA-DC","x":45,"y":21.6},{"s":"SA-DC","x":46,"y":17.1},{"s":"SA-DC","x":47,"y":17.1},{"s":"SA-DC","x":48,"y":20.6},{"s":"SA-DC","x":49,"y":22.8},{"s":"SA-DC","x":50,"y":21.2},
{"s":"SA-DC","x":51,"y":22.7},{"s":"SA-DC","x":52,"y":21.5},{"s":"SA-DC","x":53,"y":22.15},{"s":"SA-DC","x":54,"y":20.1},{"s":"SA-DC","x":55,"y":19.45},{"s":"SA-DC","x":56,"y":18.1},{"s":"SA-DC","x":57,"y":21.7},{"s":"SA-DC","x":58,"y":22.8},{"s":"SA-DC","x":59,"y":22.7},{"s":"SA-DC","x":60,"y":22.8},
{"s":"SA-DC","x":61,"y":22.9},{"s":"SA-DC","x":62,"y":22.9},{"s":"SA-DC","x":63,"y":21.1},{"s":"SA-DC","x":64,"y":18.45},{"s":"SA-DC","x":65,"y":17.8},{"s":"SA-DC","x":66,"y":20.6},{"s":"SA-DC","x":67,"y":20.0},{"s":"SA-DC","x":68,"y":23.7},{"s":"SA-DC","x":69,"y":17.6},{"s":"SA-DC","x":70,"y":19.6},
{"s":"SA-DC","x":71,"y":21.65},{"s":"SA-DC","x":72,"y":22.5},{"s":"SA-DC","x":73,"y":22.6},{"s":"SA-DC","x":74,"y":22.6},{"s":"SA-DC","x":75,"y":19.45},{"s":"SA-DC","x":76,"y":9.2},{"s":"SA-DC","x":77,"y":21.3},{"s":"SA-DC","x":78,"y":21.8},{"s":"SA-DC","x":79,"y":20.3},{"s":"SA-DC","x":80,"y":25.6},
{"s":"SA-DC","x":81,"y":23.5},{"s":"SA-DC","x":82,"y":22.0},{"s":"SA-DC","x":83,"y":22.8},{"s":"SA-DC","x":84,"y":23.2},{"s":"SA-DC","x":85,"y":20.1},{"s":"SA-DC","x":86,"y":25.1},{"s":"SA-DC","x":87,"y":21.5},{"s":"SA-DC","x":88,"y":20.3},{"s":"SA-DC","x":89,"y":23.4},{"s":"SA-DC","x":90,"y":22.0},
{"s":"SA-DC","x":91,"y":23.5},{"s":"SA-DC","x":92,"y":15.6},{"s":"SA-DC","x":93,"y":22.0},{"s":"SA-DC","x":94,"y":17.1},{"s":"SA-DC","x":95,"y":23.4},{"s":"SA-DC","x":96,"y":22.3},{"s":"SA-DC","x":97,"y":19.45},{"s":"SA-DC","x":98,"y":21.7},{"s":"SA-DC","x":99,"y":23.85},{"s":"SA-DC","x":100,"y":10.2},
{"s":"GAO","x":1,"y":5.15},{"s":"GAO","x":2,"y":7.2},{"s":"GAO","x":3,"y":5.4},{"s":"GAO","x":4,"y":4.1},{"s":"GAO","x":5,"y":6.5},{"s":"GAO","x":6,"y":6.7},{"s":"GAO","x":7,"y":5.65},{"s":"GAO","x":8,"y":8.35},{"s":"GAO","x":9,"y":8.2},{"s":"GAO","x":10,"y":9.35},
{"s":"GAO","x":11,"y":6.5},{"s":"GAO","x":12,"y":11.2},{"s":"GAO","x":13,"y":5.65},{"s":"GAO","x":14,"y":6.7},{"s":"GAO","x":15,"y":14.4},{"s":"GAO","x":16,"y":8.5},{"s":"GAO","x":17,"y":10.2},{"s":"GAO","x":18,"y":5.2},{"s":"GAO","x":19,"y":9.9},{"s":"GAO","x":20,"y":11.9},
{"s":"GAO","x":21,"y":7.3},{"s":"GAO","x":22,"y":15.6},{"s":"GAO","x":23,"y":10.7},{"s":"GAO","x":24,"y":8.5},{"s":"GAO","x":25,"y":10.7},{"s":"GAO","x":26,"y":15.1},{"s":"GAO","x":27,"y":10.2},{"s":"GAO","x":28,"y":8.9},{"s":"GAO","x":29,"y":17.3},{"s":"GAO","x":30,"y":11.4},
{"s":"GAO","x":31,"y":17.45},{"s":"GAO","x":32,"y":16.4},{"s":"GAO","x":33,"y":15.6},{"s":"GAO","x":34,"y":17.6},{"s":"GAO","x":35,"y":22.8},{"s":"GAO","x":36,"y":19.3},{"s":"GAO","x":37,"y":27.0},{"s":"GAO","x":38,"y":25.35},{"s":"GAO","x":39,"y":22.0},{"s":"GAO","x":40,"y":23.5},
{"s":"GAO","x":41,"y":27.0},{"s":"GAO","x":42,"y":29.4},{"s":"GAO","x":43,"y":27.0},{"s":"GAO","x":44,"y":20.5},{"s":"GAO","x":45,"y":28.7},{"s":"GAO","x":46,"y":22.7},{"s":"GAO","x":47,"y":21.5},{"s":"GAO","x":48,"y":26.2},{"s":"GAO","x":49,"y":29.4},{"s":"GAO","x":50,"y":26.7},
{"s":"GAO","x":51,"y":30.1},{"s":"GAO","x":52,"y":29.05},{"s":"GAO","x":53,"y":29.9},{"s":"GAO","x":54,"y":25.7},{"s":"GAO","x":55,"y":27.7},{"s":"GAO","x":56,"y":24.0},{"s":"GAO","x":57,"y":27.7},{"s":"GAO","x":58,"y":29.4},{"s":"GAO","x":59,"y":29.45},{"s":"GAO","x":60,"y":28.2},
{"s":"GAO","x":61,"y":27.9},{"s":"GAO","x":62,"y":29.7},{"s":"GAO","x":63,"y":29.7},{"s":"GAO","x":64,"y":25.85},{"s":"GAO","x":65,"y":26.0},{"s":"GAO","x":66,"y":29.2},{"s":"GAO","x":67,"y":25.0},{"s":"GAO","x":68,"y":29.7},{"s":"GAO","x":69,"y":23.8},{"s":"GAO","x":70,"y":26.5},
{"s":"GAO","x":71,"y":28.0},{"s":"GAO","x":72,"y":27.2},{"s":"GAO","x":73,"y":26.8},{"s":"GAO","x":74,"y":29.7},{"s":"GAO","x":75,"y":29.7},{"s":"GAO","x":76,"y":11.9},{"s":"GAO","x":77,"y":26.0},{"s":"GAO","x":78,"y":25.0},{"s":"GAO","x":79,"y":29.2},{"s":"GAO","x":80,"y":27.6},
{"s":"GAO","x":81,"y":28.55},{"s":"GAO","x":82,"y":30.4},{"s":"GAO","x":83,"y":24.5},{"s":"GAO","x":84,"y":27.6},{"s":"GAO","x":85,"y":28.65},{"s":"GAO","x":86,"y":26.5},{"s":"GAO","x":87,"y":27.4},{"s":"GAO","x":88,"y":24.0},{"s":"GAO","x":89,"y":28.9},{"s":"GAO","x":90,"y":30.1},
{"s":"GAO","x":91,"y":28.55},{"s":"GAO","x":92,"y":19.1},{"s":"GAO","x":93,"y":29.05},{"s":"GAO","x":94,"y":21.0},{"s":"GAO","x":95,"y":29.9},{"s":"GAO","x":96,"y":28.9},{"s":"GAO","x":97,"y":26.0},{"s":"GAO","x":98,"y":26.8},{"s":"GAO","x":99,"y":29.7},{"s":"GAO","x":100,"y":13.2},
{"s":"SA+GAO","x":1,"y":5.2},{"s":"SA+GAO","x":2,"y":5.6},{"s":"SA+GAO","x":3,"y":5.4},{"s":"SA+GAO","x":4,"y":4.2},{"s":"SA+GAO","x":5,"y":6.0},{"s":"SA+GAO","x":6,"y":5.3},{"s":"SA+GAO","x":7,"y":5.4},{"s":"SA+GAO","x":8,"y":6.5},{"s":"SA+GAO","x":9,"y":6.5},{"s":"SA+GAO","x":10,"y":9.1},
{"s":"SA+GAO","x":11,"y":5.9},{"s":"SA+GAO","x":12,"y":9.3},{"s":"SA+GAO","x":13,"y":5.8},{"s":"SA+GAO","x":14,"y":6.4},{"s":"SA+GAO","x":15,"y":13.2},{"s":"SA+GAO","x":16,"y":7.2},{"s":"SA+GAO","x":17,"y":8.5},{"s":"SA+GAO","x":18,"y":4.9},{"s":"SA+GAO","x":19,"y":9.0},{"s":"SA+GAO","x":20,"y":11.4},
{"s":"SA+GAO","x":21,"y":7.4},{"s":"SA+GAO","x":22,"y":12.6},{"s":"SA+GAO","x":23,"y":9.2},{"s":"SA+GAO","x":24,"y":7.8},{"s":"SA+GAO","x":25,"y":8.5},{"s":"SA+GAO","x":26,"y":12.4},{"s":"SA+GAO","x":27,"y":10.4},{"s":"SA+GAO","x":28,"y":7.8},{"s":"SA+GAO","x":29,"y":12.2},{"s":"SA+GAO","x":30,"y":10.7},
{"s":"SA+GAO","x":31,"y":15.0},{"s":"SA+GAO","x":32,"y":12.1},{"s":"SA+GAO","x":33,"y":12.7},{"s":"SA+GAO","x":34,"y":15.0},{"s":"SA+GAO","x":35,"y":17.8},{"s":"SA+GAO","x":36,"y":16.8},{"s":"SA+GAO","x":37,"y":20.2},{"s":"SA+GAO","x":38,"y":20.6},{"s":"SA+GAO","x":39,"y":17.4},{"s":"SA+GAO","x":40,"y":23.4},
{"s":"SA+GAO","x":41,"y":19.6},{"s":"SA+GAO","x":42,"y":22.2},{"s":"SA+GAO","x":43,"y":21.1},{"s":"SA+GAO","x":44,"y":18.2},{"s":"SA+GAO","x":45,"y":21.8},{"s":"SA+GAO","x":46,"y":17.4},{"s":"SA+GAO","x":47,"y":20.1},{"s":"SA+GAO","x":48,"y":20.9},{"s":"SA+GAO","x":49,"y":23.1},{"s":"SA+GAO","x":50,"y":21.5},
{"s":"SA+GAO","x":51,"y":23.0},{"s":"SA+GAO","x":52,"y":21.8},{"s":"SA+GAO","x":53,"y":22.4},{"s":"SA+GAO","x":54,"y":21.0},{"s":"SA+GAO","x":55,"y":20.3},{"s":"SA+GAO","x":56,"y":18.9},{"s":"SA+GAO","x":57,"y":22.0},{"s":"SA+GAO","x":58,"y":23.0},{"s":"SA+GAO","x":59,"y":23.0},{"s":"SA+GAO","x":60,"y":23.0},
{"s":"SA+GAO","x":61,"y":23.2},{"s":"SA+GAO","x":62,"y":23.3},{"s":"SA+GAO","x":63,"y":21.5},{"s":"SA+GAO","x":64,"y":19.3},{"s":"SA+GAO","x":65,"y":18.8},{"s":"SA+GAO","x":66,"y":21.5},{"s":"SA+GAO","x":67,"y":20.7},{"s":"SA+GAO","x":68,"y":24.0},{"s":"SA+GAO","x":69,"y":18.0},{"s":"SA+GAO","x":70,"y":20.0},
{"s":"SA+GAO","x":71,"y":22.8},{"s":"SA+GAO","x":72,"y":22.7},{"s":"SA+GAO","x":73,"y":22.8},{"s":"SA+GAO","x":74,"y":22.8},{"s":"SA+GAO","x":75,"y":20.5},{"s":"SA+GAO","x":76,"y":12.55},{"s":"SA+GAO","x":77,"y":22.0},{"s":"SA+GAO","x":78,"y":22.0},{"s":"SA+GAO","x":79,"y":20.6},{"s":"SA+GAO","x":80,"y":25.85},
{"s":"SA+GAO","x":81,"y":23.8},{"s":"SA+GAO","x":82,"y":22.3},{"s":"SA+GAO","x":83,"y":23.0},{"s":"SA+GAO","x":84,"y":23.5},{"s":"SA+GAO","x":85,"y":21.5},{"s":"SA+GAO","x":86,"y":25.35},{"s":"SA+GAO","x":87,"y":21.8},{"s":"SA+GAO","x":88,"y":20.6},{"s":"SA+GAO","x":89,"y":23.6},{"s":"SA+GAO","x":90,"y":23.0},
{"s":"SA+GAO","x":91,"y":24.0},{"s":"SA+GAO","x":92,"y":16.4},{"s":"SA+GAO","x":93,"y":22.3},{"s":"SA+GAO","x":94,"y":18.3},{"s":"SA+GAO","x":95,"y":23.7},{"s":"SA+GAO","x":96,"y":23.0},{"s":"SA+GAO","x":97,"y":21.3},{"s":"SA+GAO","x":98,"y":22.0},{"s":"SA+GAO","x":99,"y":24.3},{"s":"SA+GAO","x":100,"y":11.9},
{"s":"GAO+SA","x":1,"y":4.65},{"s":"GAO+SA","x":2,"y":5.4},{"s":"GAO+SA","x":3,"y":5.3},{"s":"GAO+SA","x":4,"y":3.6},{"s":"GAO+SA","x":5,"y":5.65},{"s":"GAO+SA","x":6,"y":5.15},{"s":"GAO+SA","x":7,"y":5.15},{"s":"GAO+SA","x":8,"y":6.3},{"s":"GAO+SA","x":9,"y":6.3},{"s":"GAO+SA","x":10,"y":9.0},
{"s":"GAO+SA","x":11,"y":5.65},{"s":"GAO+SA","x":12,"y":9.2},{"s":"GAO+SA","x":13,"y":5.65},{"s":"GAO+SA","x":14,"y":6.2},{"s":"GAO+SA","x":15,"y":12.9},{"s":"GAO+SA","x":16,"y":7.0},{"s":"GAO+SA","x":17,"y":8.35},{"s":"GAO+SA","x":18,"y":4.8},{"s":"GAO+SA","x":19,"y":8.85},{"s":"GAO+SA","x":20,"y":10.9},
{"s":"GAO+SA","x":21,"y":7.2},{"s":"GAO+SA","x":22,"y":12.4},{"s":"GAO+SA","x":23,"y":9.0},{"s":"GAO+SA","x":24,"y":7.5},{"s":"GAO+SA","x":25,"y":8.35},{"s":"GAO+SA","x":26,"y":12.2},{"s":"GAO+SA","x":27,"y":10.2},{"s":"GAO+SA","x":28,"y":7.5},{"s":"GAO+SA","x":29,"y":12.05},{"s":"GAO+SA","x":30,"y":10.5},
{"s":"GAO+SA","x":31,"y":14.75},{"s":"GAO+SA","x":32,"y":11.9},{"s":"GAO+SA","x":33,"y":12.55},{"s":"GAO+SA","x":34,"y":14.75},{"s":"GAO+SA","x":35,"y":17.6},{"s":"GAO+SA","x":36,"y":16.6},{"s":"GAO+SA","x":37,"y":20.0},{"s":"GAO+SA","x":38,"y":20.4},{"s":"GAO+SA","x":39,"y":17.1},{"s":"GAO+SA","x":40,"y":23.1},
{"s":"GAO+SA","x":41,"y":19.5},{"s":"GAO+SA","x":42,"y":22.0},{"s":"GAO+SA","x":43,"y":21.0},{"s":"GAO+SA","x":44,"y":17.95},{"s":"GAO+SA","x":45,"y":21.7},{"s":"GAO+SA","x":46,"y":17.1},{"s":"GAO+SA","x":47,"y":20.0},{"s":"GAO+SA","x":48,"y":20.8},{"s":"GAO+SA","x":49,"y":23.0},{"s":"GAO+SA","x":50,"y":21.4},
{"s":"GAO+SA","x":51,"y":22.9},{"s":"GAO+SA","x":52,"y":21.7},{"s":"GAO+SA","x":53,"y":22.3},{"s":"GAO+SA","x":54,"y":20.9},{"s":"GAO+SA","x":55,"y":20.2},{"s":"GAO+SA","x":56,"y":18.8},{"s":"GAO+SA","x":57,"y":21.9},{"s":"GAO+SA","x":58,"y":23.0},{"s":"GAO+SA","x":59,"y":22.9},{"s":"GAO+SA","x":60,"y":23.0},
{"s":"GAO+SA","x":61,"y":23.1},{"s":"GAO+SA","x":62,"y":23.2},{"s":"GAO+SA","x":63,"y":21.4},{"s":"GAO+SA","x":64,"y":19.0},{"s":"GAO+SA","x":65,"y":18.7},{"s":"GAO+SA","x":66,"y":20.6},{"s":"GAO+SA","x":67,"y":20.6},{"s":"GAO+SA","x":68,"y":23.9},{"s":"GAO+SA","x":69,"y":17.9},{"s":"GAO+SA","x":70,"y":19.6},
{"s":"GAO+SA","x":71,"y":22.8},{"s":"GAO+SA","x":72,"y":22.6},{"s":"GAO+SA","x":73,"y":22.7},{"s":"GAO+SA","x":74,"y":22.7},{"s":"GAO+SA","x":75,"y":20.4},{"s":"GAO+SA","x":76,"y":10.5},{"s":"GAO+SA","x":77,"y":21.9},{"s":"GAO+SA","x":78,"y":21.9},{"s":"GAO+SA","x":79,"y":20.5},{"s":"GAO+SA","x":80,"y":25.8},
{"s":"GAO+SA","x":81,"y":23.7},{"s":"GAO+SA","x":82,"y":22.2},{"s":"GAO+SA","x":83,"y":22.9},{"s":"GAO+SA","x":84,"y":23.4},{"s":"GAO+SA","x":85,"y":21.4},{"s":"GAO+SA","x":86,"y":25.3},{"s":"GAO+SA","x":87,"y":21.7},{"s":"GAO+SA","x":88,"y":20.6},{"s":"GAO+SA","x":89,"y":23.5},{"s":"GAO+SA","x":90,"y":22.9},
{"s":"GAO+SA","x":91,"y":23.5},{"s":"GAO+SA","x":92,"y":16.3},{"s":"GAO+SA","x":93,"y":22.2},{"s":"GAO+SA","x":94,"y":18.2},{"s":"GAO+SA","x":95,"y":23.6},{"s":"GAO+SA","x":96,"y":22.9},{"s":"GAO+SA","x":97,"y":20.0},{"s":"GAO+SA","x":98,"y":21.9},{"s":"GAO+SA","x":99,"y":24.2},{"s":"GAO+SA","x":100,"y":10.7},
{"s":"QCP","x":1,"y":4.1},{"s":"QCP","x":2,"y":5.5},{"s":"QCP","x":3,"y":5.65},{"s":"QCP","x":4,"y":5.7},{"s":"QCP","x":5,"y":5.7},{"s":"QCP","x":6,"y":5.7},{"s":"QCP","x":7,"y":6.2},{"s":"QCP","x":8,"y":6.5},{"s":"QCP","x":9,"y":7.3},{"s":"QCP","x":10,"y":7.85},
{"s":"QCP","x":11,"y":8.0},{"s":"QCP","x":12,"y":8.35},{"s":"QCP","x":13,"y":8.7},{"s":"QCP","x":14,"y":8.75},{"s":"QCP","x":15,"y":8.85},{"s":"QCP","x":16,"y":9.7},{"s":"QCP","x":17,"y":9.85},{"s":"QCP","x":18,"y":10.0},{"s":"QCP","x":19,"y":10.4},{"s":"QCP","x":20,"y":11.0},
{"s":"QCP","x":21,"y":11.5},{"s":"QCP","x":22,"y":12.2},{"s":"QCP","x":23,"y":12.2},{"s":"QCP","x":24,"y":12.2},{"s":"QCP","x":25,"y":12.4},{"s":"QCP","x":26,"y":12.4},{"s":"QCP","x":27,"y":13.2},{"s":"QCP","x":28,"y":14.75},{"s":"QCP","x":29,"y":14.9},{"s":"QCP","x":30,"y":15.9},
{"s":"QCP","x":31,"y":16.1},{"s":"QCP","x":32,"y":17.3},{"s":"QCP","x":33,"y":18.45},{"s":"QCP","x":34,"y":18.8},{"s":"QCP","x":35,"y":19.6},{"s":"QCP","x":36,"y":20.0},{"s":"QCP","x":37,"y":20.3},{"s":"QCP","x":38,"y":20.5},{"s":"QCP","x":39,"y":21.1},{"s":"QCP","x":40,"y":21.25},
{"s":"QCP","x":41,"y":21.25},{"s":"QCP","x":42,"y":22.1},{"s":"QCP","x":43,"y":22.1},{"s":"QCP","x":44,"y":22.15},{"s":"QCP","x":45,"y":22.2},{"s":"QCP","x":46,"y":22.3},{"s":"QCP","x":47,"y":22.3},{"s":"QCP","x":48,"y":22.4},{"s":"QCP","x":49,"y":23.2},{"s":"QCP","x":50,"y":23.3},
{"s":"QCP","x":51,"y":23.5},{"s":"QCP","x":52,"y":23.7},{"s":"QCP","x":53,"y":23.85},{"s":"QCP","x":54,"y":24.0},{"s":"QCP","x":55,"y":24.2},{"s":"QCP","x":56,"y":24.3},{"s":"QCP","x":57,"y":24.35},{"s":"QCP","x":58,"y":24.4},{"s":"QCP","x":59,"y":24.5},{"s":"QCP","x":60,"y":24.7},
{"s":"QCP","x":61,"y":25.2},{"s":"QCP","x":62,"y":25.35},{"s":"QCP","x":63,"y":25.4},{"s":"QCP","x":64,"y":25.5},{"s":"QCP","x":65,"y":25.5},{"s":"QCP","x":66,"y":25.5},{"s":"QCP","x":67,"y":25.7},{"s":"QCP","x":68,"y":25.7},{"s":"QCP","x":69,"y":25.85},{"s":"QCP","x":70,"y":26.35},
{"s":"QCP","x":71,"y":26.9},{"s":"QCP","x":72,"y":27.0},{"s":"QCP","x":73,"y":27.1},{"s":"QCP","x":74,"y":27.15},{"s":"QCP","x":75,"y":28.0},{"s":"QCP","x":76,"y":28.7},{"s":"QCP","x":77,"y":28.9},{"s":"QCP","x":78,"y":29.0},{"s":"QCP","x":79,"y":29.2},{"s":"QCP","x":80,"y":29.7},
{"s":"QCP","x":81,"y":30.0},{"s":"QCP","x":82,"y":30.1},{"s":"QCP","x":83,"y":30.2},{"s":"QCP","x":84,"y":30.2},{"s":"QCP","x":85,"y":30.25},{"s":"QCP","x":86,"y":30.25},{"s":"QCP","x":87,"y":30.3},{"s":"QCP","x":88,"y":30.3},{"s":"QCP","x":89,"y":30.3},{"s":"QCP","x":90,"y":30.3},
{"s":"QCP","x":91,"y":30.35},{"s":"QCP","x":92,"y":30.35},{"s":"QCP","x":93,"y":30.35},{"s":"QCP","x":94,"y":30.35},{"s":"QCP","x":95,"y":30.4},{"s":"QCP","x":96,"y":30.4},{"s":"QCP","x":97,"y":30.4},{"s":"QCP","x":98,"y":30.4},{"s":"QCP","x":99,"y":30.4},{"s":"QCP","x":100,"y":30.4}
],
"boxA":[
{"s":"SA","lo":1.73,"q1":5.68,"md":8.14,"q3":9.88,"hi":12.04},
{"s":"SA-HT","lo":2.57,"q1":6.89,"md":9.04,"q3":10.25,"hi":13.07},
{"s":"SA-DC","lo":1.81,"q1":5.2,"md":7.96,"q3":9.74,"hi":11.83},
{"s":"GAO","lo":2.17,"q1":5.99,"md":10.44,"q3":12.79,"hi":13.57},
{"s":"SA+GAO","lo":1.73,"q1":5.57,"md":8.11,"q3":9.74,"hi":12.04},
{"s":"GAO+SA","lo":1.88,"q1":5.09,"md":7.95,"q3":9.71,"hi":12.07},
{"s":"QCP","lo":2.12,"q1":6.74,"md":10.0,"q3":11.43,"hi":13.57}
],
"boxB":[
{"s":"SA","lo":5.5,"q1":13.9,"md":21.0,"q3":23.1,"hi":25.9},
{"s":"SA-HT","lo":10.4,"q1":18.6,"md":22.7,"q3":24.2,"hi":26.6},
{"s":"SA-DC","lo":4.0,"q1":12.1,"md":19.8,"q3":21.9,"hi":26.0},
{"s":"GAO","lo":4.3,"q1":11.8,"md":25.4,"q3":29.0,"hi":30.4},
{"s":"SA+GAO","lo":4.6,"q1":12.4,"md":20.6,"q3":22.9,"hi":25.9},
{"s":"GAO+SA","lo":3.7,"q1":10.6,"md":19.9,"q3":22.6,"hi":26.2},
{"s":"QCP","lo":4.2,"q1":12.6,"md":23.5,"q3":28.4,"hi":30.4}
],
"outB":[
{"s":"SA-HT","y":9.0},{"s":"SA-HT","y":8.5},{"s":"SA-HT","y":8.1},{"s":"SA-HT","y":6.2},{"s":"SA-HT","y":5.7}
]
},
"resolve":{"scale":{"color":"independent","shape":"independent"}},
"spacing":63,
"vconcat":[
{"hconcat":[
 {"width":709,"height":332,
  "title":{"text":"(a1) L0 - solution optimality - per simulation","offset":-4},
  "data":{"name":"a"},
  "layer":[
   {"mark":{"type":"point","filled":false,"size":100,"strokeWidth":1.1,"opacity":0.85,"clip":true},
    "encoding":{
     "x":{"field":"x","type":"quantitative","scale":{"domain":[1,100],"nice":false,"zero":false},"axis":null},
     "y":{"field":"y","type":"quantitative","scale":{"domain":[0,15],"nice":false},"axis":{"values":[0,5,10,15],"title":"Normalised max{ 𝒰ᵢψ }, %","labelPadding":23,"titlePadding":19}},
     "color":{"field":"s","type":"nominal",
       "scale":{"domain":["SA","SA(Quadratic Fit)","SA-HT","SA-DC","GAO","GAO(Quadratic Fit)","SA+GAO","GAO+SA","QCP","QCP(Quadratic Fit)","Base"],
                "range":["#d40000","#c80000","#e23a3a","#e00000","#1a8cc8","#1a86c0","#ff7f00","#ff9a33","#000000","#000000","#000000"]},
       "legend":{"orient":"bottom","title":null,"columns":6,"direction":"horizontal","symbolSize":100,"symbolStrokeWidth":1.3,"labelOffset":28,"columnPadding":39,"rowPadding":6,"offset":14,"symbolFillColor":"transparent"}},
     "shape":{"field":"s","type":"nominal",
       "scale":{"domain":["SA","SA(Quadratic Fit)","SA-HT","SA-DC","GAO","GAO(Quadratic Fit)","SA+GAO","GAO+SA","QCP","QCP(Quadratic Fit)","Base"],
                "range":["M-4.5,0L-4.5,0M4.5,0L4.5,0M0,0L0,-1M0,0L0.95,-0.31M0,0L0.59,0.81M0,0L-0.59,0.81M0,0L-0.95,-0.31","M-4.5,0.12L4.5,0.12M-4.5,-0.12L4.5,-0.12","M-4.5,0L-4.5,0M4.5,0L4.5,0M-1,0L1,0","M-4.5,0L-4.5,0M4.5,0L4.5,0M-1,0L1,0M0,-1L0,1","M-4.5,0L-4.5,0M4.5,0L4.5,0M0,0L0,-1M0,0L0.95,-0.31M0,0L0.59,0.81M0,0L-0.59,0.81M0,0L-0.95,-0.31","M-4.5,0.12L4.5,0.12M-4.5,-0.12L4.5,-0.12","M-4.5,0L-4.5,0M4.5,0L4.5,0M-1,0L1,0","M-4.5,0L-4.5,0M4.5,0L4.5,0M-1,0L1,0M0,-1L0,1","M-4.5,0L-4.5,0M4.5,0L4.5,0M0,0L0,-1M0,0L0.95,-0.31M0,0L0.59,0.81M0,0L-0.59,0.81M0,0L-0.95,-0.31","M-4.5,0.12L4.5,0.12M-4.5,-0.12L4.5,-0.12","M-4.3,0L-2.5,0M-0.9,0L0.9,0M2.5,0L4.3,0"]}}
    }},
   {"transform":[{"filter":{"field":"s","oneOf":["SA","GAO","QCP"]}},{"regression":"y","on":"x","groupby":["s"],"method":"poly","order":2}],
    "mark":{"type":"line","strokeWidth":2.2,"clip":true},
    "encoding":{"x":{"field":"x","type":"quantitative"},"y":{"field":"y","type":"quantitative"},"detail":{"field":"s","type":"nominal"},
      "color":{"condition":[{"test":"datum.s==='SA'","value":"#c80000"},{"test":"datum.s==='GAO'","value":"#1a86c0"}],"value":"#000000"}}},
   {"mark":{"type":"rule","strokeDash":[5,4],"color":"#000","strokeWidth":1.1},"encoding":{"y":{"datum":13.55}}}
  ]},
 {"width":709,"height":332,
  "title":{"text":"(a2) L0 - solution optimality - statistics","offset":10},
  "data":{"name":"boxA"},
  "layer":[
   {"mark":{"type":"rule","strokeWidth":1.2,"opacity":0.8},"encoding":{"x":{"field":"s","type":"nominal","scale":{"domain":["SA","SA-HT","SA-DC","GAO","SA+GAO","GAO+SA","QCP"],"paddingInner":0.2,"paddingOuter":0.6},"axis":null},"y":{"field":"lo","type":"quantitative","scale":{"domain":[0,15],"nice":false},"axis":null},"y2":{"field":"q1"},"stroke":{"field":"s","type":"nominal","scale":{"domain":["SA","SA-HT","SA-DC","GAO","SA+GAO","GAO+SA","QCP"],"range":["#d40000","#dd2020","#d40000","#1a8cc8","#ff7f00","#ff9030","#111111"]},"legend":null}}},
   {"mark":{"type":"rule","strokeWidth":1.2,"opacity":0.8},"encoding":{"x":{"field":"s","type":"nominal"},"y":{"field":"q3","type":"quantitative"},"y2":{"field":"hi"},"stroke":{"field":"s","type":"nominal","legend":null}}},
   {"mark":{"type":"rect","fillOpacity":0.15,"strokeWidth":1.3},"encoding":{"x":{"field":"s","type":"nominal"},"y":{"field":"q1","type":"quantitative"},"y2":{"field":"q3"},"stroke":{"field":"s","type":"nominal","legend":null},"fill":{"field":"s","type":"nominal","scale":{"domain":["SA","SA-HT","SA-DC","GAO","SA+GAO","GAO+SA","QCP"],"range":["#d40000","#dd2020","#d40000","#1a8cc8","#ff7f00","#ff9030","#111111"]},"legend":null}}},
   {"mark":{"type":"tick","size":71,"thickness":1.3},"encoding":{"x":{"field":"s","type":"nominal"},"y":{"field":"md","type":"quantitative"},"fill":{"field":"s","type":"nominal","legend":null}}},
   {"mark":{"type":"tick","size":56,"thickness":1.3},"encoding":{"x":{"field":"s","type":"nominal"},"y":{"field":"lo","type":"quantitative"},"fill":{"field":"s","type":"nominal","legend":null}}},
   {"mark":{"type":"tick","size":56,"thickness":1.3},"encoding":{"x":{"field":"s","type":"nominal"},"y":{"field":"hi","type":"quantitative"},"fill":{"field":"s","type":"nominal","legend":null}}},
   {"mark":{"type":"rule","strokeDash":[5,4],"color":"#000","strokeWidth":1.1},"encoding":{"y":{"datum":13.55}}}
  ]}
],"spacing":0},
{"hconcat":[
 {"width":709,"height":334,
  "title":{"text":"(b1) X0 - solution optimality - per simulation","offset":10},
  "data":{"name":"b"},
  "layer":[
   {"mark":{"type":"point","filled":false,"size":100,"strokeWidth":1.1,"opacity":0.85,"clip":true},
    "encoding":{
     "x":{"field":"x","type":"quantitative","scale":{"domain":[1,100],"nice":false,"zero":false},"axis":{"values":[10,20,30,40,50,60,70,80,90,100],"title":"100 simulations in ascending order of max{ 𝒰ᵢψQCP }","labelPadding":14,"titlePadding":14}},
     "y":{"field":"y","type":"quantitative","scale":{"domain":[0,34],"nice":false},"axis":{"values":[0,10,20,30],"title":"Normalised max{ 𝒰ᵢψ }, %","labelPadding":23,"titlePadding":19}},
     "color":{"field":"s","type":"nominal",
       "scale":{"domain":["SA","SA(Quadratic Fit)","SA-HT","SA-DC","GAO","GAO(Quadratic Fit)","SA+GAO","GAO+SA","QCP","QCP(Quadratic Fit)","Base"],
                "range":["#d40000","#c80000","#e23a3a","#e00000","#1a8cc8","#1a86c0","#ff7f00","#ff9a33","#000000","#000000","#000000"]},"legend":null},
     "shape":{"field":"s","type":"nominal",
       "scale":{"domain":["SA","SA(Quadratic Fit)","SA-HT","SA-DC","GAO","GAO(Quadratic Fit)","SA+GAO","GAO+SA","QCP","QCP(Quadratic Fit)","Base"],
                "range":["M0,0L0,-1M0,0L0.95,-0.31M0,0L0.59,0.81M0,0L-0.59,0.81M0,0L-0.95,-0.31","M-4.5,0L4.5,0","M-1,0L1,0","M-1,0L1,0M0,-1L0,1","M0,0L0,-1M0,0L0.95,-0.31M0,0L0.59,0.81M0,0L-0.59,0.81M0,0L-0.95,-0.31","M-4.5,0L4.5,0","M-1,0L1,0","M-1,0L1,0M0,-1L0,1","M0,0L0,-1M0,0L0.95,-0.31M0,0L0.59,0.81M0,0L-0.59,0.81M0,0L-0.95,-0.31","M-4.5,0L4.5,0","M-4.3,0L4.3,0"]},"legend":null}
    }},
   {"transform":[{"filter":{"field":"s","oneOf":["SA","GAO","QCP"]}},{"regression":"y","on":"x","groupby":["s"],"method":"poly","order":2}],
    "mark":{"type":"line","strokeWidth":2.2,"clip":true},
    "encoding":{"x":{"field":"x","type":"quantitative"},"y":{"field":"y","type":"quantitative"},"detail":{"field":"s","type":"nominal"},
      "color":{"condition":[{"test":"datum.s==='SA'","value":"#c80000"},{"test":"datum.s==='GAO'","value":"#1a86c0"}],"value":"#000000"}}},
   {"mark":{"type":"rule","strokeDash":[5,4],"color":"#000","strokeWidth":1.1},"encoding":{"y":{"datum":30.4}}}
  ]},
 {"width":709,"height":334,
  "title":{"text":"(b2) X0 - solution optimality - statistics","offset":10},
  "data":{"name":"boxB"},
  "layer":[
   {"mark":{"type":"rule","strokeWidth":1.2,"opacity":0.8},"encoding":{"x":{"field":"s","type":"nominal","scale":{"domain":["SA","SA-HT","SA-DC","GAO","SA+GAO","GAO+SA","QCP"],"paddingInner":0.2,"paddingOuter":0.6},"axis":{"title":null,"labelAngle":-90,"labelPadding":14}},"y":{"field":"lo","type":"quantitative","scale":{"domain":[0,34],"nice":false},"axis":null},"y2":{"field":"q1"},"stroke":{"field":"s","type":"nominal","scale":{"domain":["SA","SA-HT","SA-DC","GAO","SA+GAO","GAO+SA","QCP"],"range":["#d40000","#dd2020","#d40000","#1a8cc8","#ff7f00","#ff9030","#111111"]},"legend":null}}},
   {"mark":{"type":"rule","strokeWidth":1.2,"opacity":0.8},"encoding":{"x":{"field":"s","type":"nominal"},"y":{"field":"q3","type":"quantitative"},"y2":{"field":"hi"},"stroke":{"field":"s","type":"nominal","legend":null}}},
   {"mark":{"type":"rect","fillOpacity":0.15,"strokeWidth":1.3},"encoding":{"x":{"field":"s","type":"nominal"},"y":{"field":"q1","type":"quantitative"},"y2":{"field":"q3"},"stroke":{"field":"s","type":"nominal","legend":null},"fill":{"field":"s","type":"nominal","scale":{"domain":["SA","SA-HT","SA-DC","GAO","SA+GAO","GAO+SA","QCP"],"range":["#d40000","#dd2020","#d40000","#1a8cc8","#ff7f00","#ff9030","#111111"]},"legend":null}}},
   {"mark":{"type":"tick","size":71,"thickness":1.3},"encoding":{"x":{"field":"s","type":"nominal"},"y":{"field":"md","type":"quantitative"},"fill":{"field":"s","type":"nominal","legend":null}}},
   {"mark":{"type":"tick","size":56,"thickness":1.3},"encoding":{"x":{"field":"s","type":"nominal"},"y":{"field":"lo","type":"quantitative"},"fill":{"field":"s","type":"nominal","legend":null}}},
   {"mark":{"type":"tick","size":56,"thickness":1.3},"encoding":{"x":{"field":"s","type":"nominal"},"y":{"field":"hi","type":"quantitative"},"fill":{"field":"s","type":"nominal","legend":null}}},
   {"data":{"name":"outB"},"mark":{"type":"point","shape":"circle","filled":false,"size":60,"strokeWidth":1.2},"encoding":{"x":{"field":"s","type":"nominal"},"y":{"field":"y","type":"quantitative"},"stroke":{"field":"s","type":"nominal","legend":null}}},
   {"mark":{"type":"rule","strokeDash":[5,4],"color":"#000","strokeWidth":1.1},"encoding":{"y":{"datum":30.4}}}
  ]}
],"spacing":0}
]
}
